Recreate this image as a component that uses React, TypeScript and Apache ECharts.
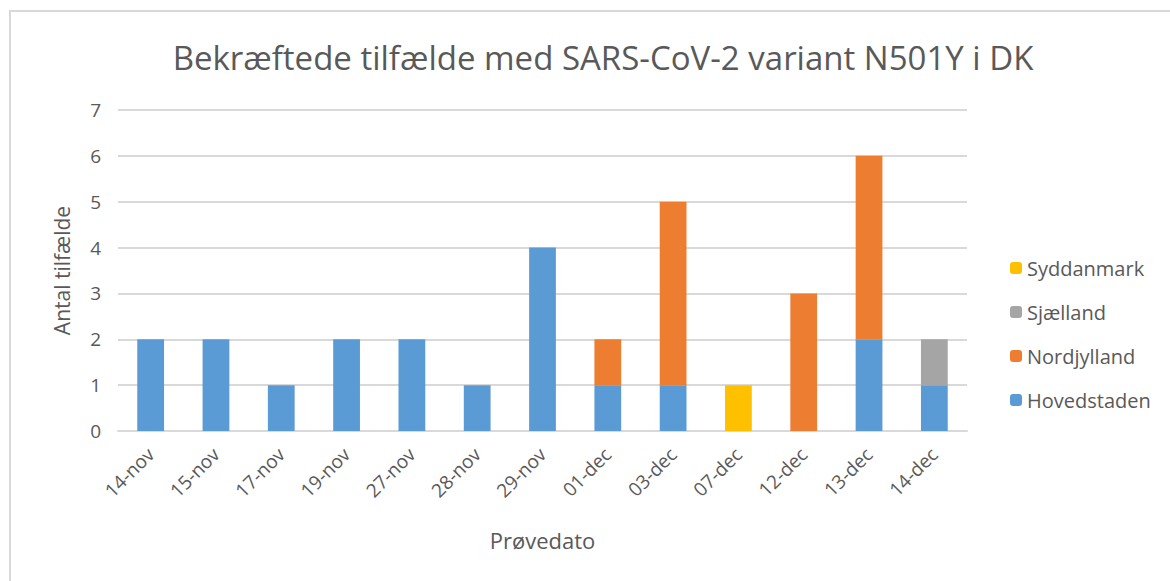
import React, { useEffect, useRef } from "react";
import * as echarts from "echarts";

const categories = ["14-nov", "15-nov", "17-nov", "19-nov", "27-nov", "28-nov", "29-nov", "01-dec", "03-dec", "07-dec", "12-dec", "13-dec", "14-dec"];
const hovedstaden = [2, 2, 1, 2, 2, 1, 4, 1, 1, 0, 0, 2, 1];
const nordjylland = [0, 0, 0, 0, 0, 0, 0, 1, 4, 0, 3, 4, 0];
const sjaelland = [0, 0, 0, 0, 0, 0, 0, 0, 0, 0, 0, 0, 1];
const syddanmark = [0, 0, 0, 0, 0, 0, 0, 0, 0, 1, 0, 0, 0];
const legendOrder = ["Syddanmark", "Sjælland", "Nordjylland", "Hovedstaden"];

const FONT = "'Open Sans', sans-serif";
const TXT = "#595959";

export default function App() {
  const ref = useRef<HTMLDivElement>(null);
  useEffect(() => {
    if (!ref.current) return;
    const chart = echarts.init(ref.current, null, { renderer: "svg" });
    const mk = (name: string, data: number[], color: string) => ({
      name,
      type: "bar",
      stack: "total",
      data: data.map((v) => (v === 0 ? null : v)),
      barWidth: "41%",
      itemStyle: { color },
    });
    chart.setOption({
      animation: false,
      backgroundColor: "#ffffff",
      textStyle: { fontFamily: FONT },
      title: {
        text: "Bekræftede tilfælde med SARS-CoV-2 variant N501Y i DK",
        left: 598,
        textAlign: "center",
        top: 36,
        textStyle: { fontFamily: FONT, fontSize: 33, fontWeight: "normal", color: TXT },
      },
      graphic: [
        {
          type: "polyline",
          shape: { points: [[10, 581], [10, 11], [1170, 11]] },
          style: { stroke: "#d9d9d9", lineWidth: 2, fill: null },
        },
      ],
      legend: {
        orient: "vertical",
        left: 1005,
        top: 253,
        itemWidth: 12,
        itemHeight: 12,
        itemGap: 24,
        data: legendOrder,
        textStyle: { fontFamily: FONT, fontSize: 20, color: TXT },
      },
      grid: { left: 118, right: 203, top: 110, bottom: 150 },
      xAxis: {
        type: "category",
        data: categories,
        name: "Prøvedato",
        nameLocation: "middle",
        nameGap: 98,
        nameTextStyle: { fontFamily: FONT, fontSize: 22, color: TXT },
        axisLine: { lineStyle: { color: "#d9d9d9", width: 2 } },
        axisTick: { show: false },
        axisLabel: { rotate: 45, fontFamily: FONT, fontSize: 19, color: TXT, margin: 20 },
      },
      yAxis: {
        type: "value",
        min: 0,
        max: 7,
        interval: 1,
        name: "Antal tilfælde",
        nameLocation: "middle",
        nameGap: 46,
        nameTextStyle: { fontFamily: FONT, fontSize: 21, color: TXT },
        axisLine: { show: false },
        axisTick: { show: false },
        axisLabel: { fontFamily: FONT, fontSize: 19, color: TXT, margin: 17 },
        splitLine: { lineStyle: { color: "#d9d9d9", width: 2 } },
      },
      series: [
        mk("Hovedstaden", hovedstaden, "#5B9BD5"),
        mk("Nordjylland", nordjylland, "#ED7D31"),
        mk("Sjælland", sjaelland, "#A5A5A5"),
        mk("Syddanmark", syddanmark, "#FFC000"),
      ],
    });
    return () => chart.dispose();
  }, []);
  return <div ref={ref} style={{ position: "fixed", left: 0, top: 0, width: 1170, height: 581 }} />;
}
